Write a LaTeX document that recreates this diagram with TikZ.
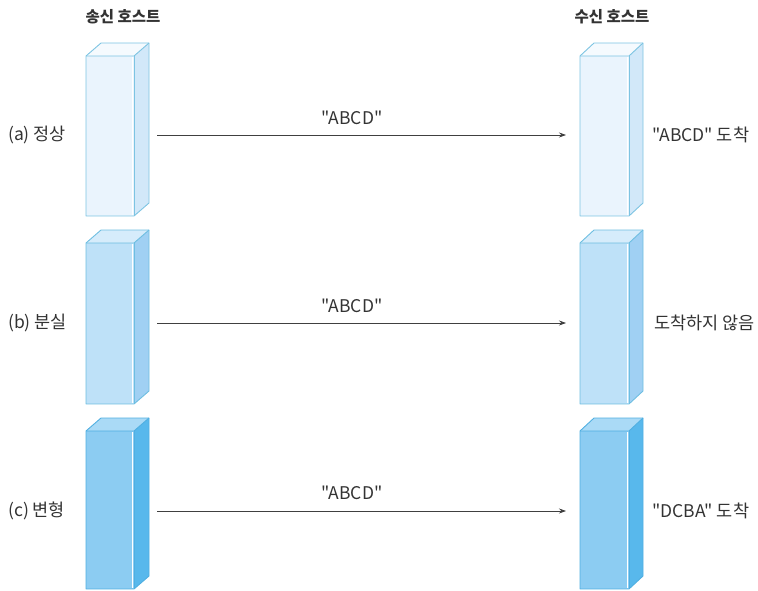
\documentclass[tikz,border=0pt]{standalone}
\usepackage{fontspec}
\setmainfont{Noto Sans CJK KR}[Ligatures=TeXOff]
\usetikzlibrary{arrows.meta}
\definecolor{aF}{RGB}{234,244,253}
\definecolor{aS}{RGB}{210,232,249}
\definecolor{aT}{RGB}{245,250,254}
\definecolor{aO}{RGB}{125,196,226}
\definecolor{bF}{RGB}{190,225,248}
\definecolor{bS}{RGB}{160,208,243}
\definecolor{bT}{RGB}{214,236,251}
\definecolor{bO}{RGB}{110,190,225}
\definecolor{cF}{RGB}{140,204,242}
\definecolor{cS}{RGB}{88,184,236}
\definecolor{cT}{RGB}{170,218,246}
\definecolor{cO}{RGB}{80,175,225}
\newcommand\drawhost[6]{%
  \fill[#6T] (#1,#2) -- ++(#5,-13) -- ++(#4,0) -- ++(-#5,13) -- cycle;
  \fill[#6S] (#1+#4,#2) -- ++(#5,-13) -- (#1+#4+#5,#3-13) -- (#1+#4,#3) -- cycle;
  \fill[#6F] (#1,#2) rectangle (#1+#4,#3);
  \draw[white, line width=0.8pt] (#1+#4-1.3,#2+1) -- (#1+#4-1.3,#3-1);
  \draw[edge,#6O] (#1,#2) -- ++(#5,-13) -- ++(#4,0) -- (#1+#4+#5,#3-13) -- (#1+#4,#3) -- (#1,#3) -- cycle;
  \draw[edge,#6O] (#1,#2) -- (#1+#4,#2) -- ++(#5,-13);
  \draw[edge,#6O] (#1+#4,#2) -- (#1+#4,#3);
}
\begin{document}
\begin{tikzpicture}[x=1pt,y=-1pt,
  lbl/.style={font=\fontsize{17.5}{20}\selectfont, text=black!80, inner sep=0pt},
  ttl/.style={font=\fontsize{15.5}{18}\bfseries\selectfont, text=black!80, inner sep=0pt},
  msg/.style={-{Stealth[length=7pt,width=5pt]}, draw=black!75, line width=0.7pt},
  edge/.style={line width=0.9pt, line join=round}]
\useasboundingbox (0,0) rectangle (758,591);
% row a
\drawhost{86}{56}{216}{48}{15}{a}
\drawhost{580}{56}{216}{49}{14}{a}
% row b
\drawhost{86}{243}{404}{48}{15}{b}
\drawhost{580}{243}{404}{49}{14}{b}
% row c
\drawhost{86}{431}{589}{48}{15}{c}
\drawhost{580}{431}{589}{49}{14}{c}
% titles
\node[ttl] (tsend) at (123,17) {송신 호스트};
\node[ttl] (trecv) at (612,17) {수신 호스트};
% row labels
\node[lbl, anchor=west] (la) at (8,135) {(a) 정상};
\node[lbl, anchor=west] (lb) at (8,323) {(b) 분실};
\node[lbl, anchor=west] (lc) at (8,511) {(c) 변형};
\node[lbl, anchor=west] (ra) at (652,135) {"ABCD" 도착};
\node[lbl, anchor=west] (rb) at (654,323) {도착하지 않음};
\node[lbl, anchor=west] (rc) at (652,511) {"DCBA" 도착};
% arrows
\coordinate (sa) at (157,135); \coordinate (ea) at (566,135);
\coordinate (sb) at (157,323); \coordinate (eb) at (566,323);
\coordinate (sc) at (157,511); \coordinate (ec) at (566,511);
\draw[msg] (sa) -- (ea);
\draw[msg] (sb) -- (eb);
\draw[msg] (sc) -- (ec);
\node[lbl] (ma) at (352,118) {"ABCD"};
\node[lbl] (mb) at (352,306) {"ABCD"};
\node[lbl] (mc) at (352,493) {"ABCD"};
\end{tikzpicture}
\end{document}
